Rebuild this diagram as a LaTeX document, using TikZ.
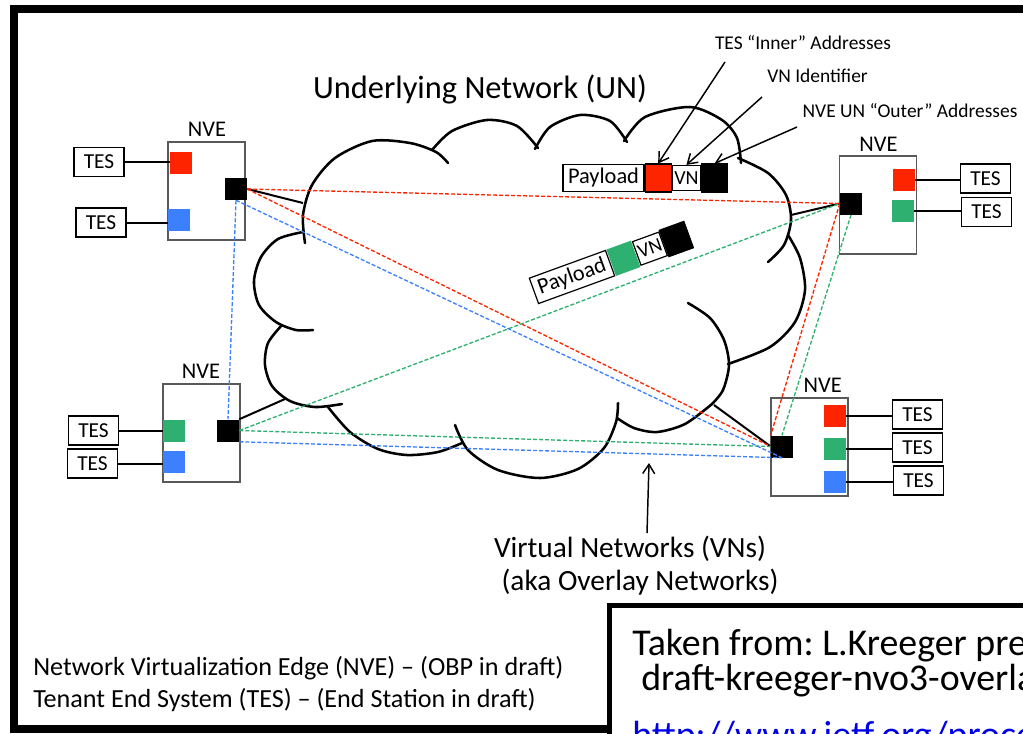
\documentclass[tikz,border=0pt]{standalone}
\usepackage{fontspec}
\setmainfont{Carlito}
\usetikzlibrary{positioning,calc,arrows.meta}
\frenchspacing

\definecolor{vnred}{RGB}{255,36,0}
\definecolor{vngreen}{RGB}{46,176,112}
\definecolor{vnblue}{RGB}{60,128,255}
\definecolor{linkblue}{RGB}{0,0,230}

\tikzset{
  nve/.style={draw=black!65, line width=1pt, minimum width=57.75pt, minimum height=73.5pt, inner sep=0pt},
  port/.style={minimum size=16.5pt, inner sep=0pt},
  tes/.style={draw, fill=white, line width=1.1pt, minimum width=37.5pt, minimum height=21.75pt, inner sep=0pt, font=\fontsize{16}{18}\selectfont},
  nvelbl/.style={anchor=base, inner sep=0pt, font=\fontsize{16.8}{18}\selectfont},
  vnlink/.style={line width=1pt, dash pattern=on 3pt off 1.5pt},
  cloudline/.style={line width=1.9pt, line cap=round},
  uplink/.style={line width=1.5pt},
  callout/.style={line width=1.1pt, -{Straight Barb[length=7pt,width=9pt]}},
  payload/.style={draw, fill=white, line width=0.9pt, minimum width=60.75pt, minimum height=20.25pt, inner sep=0pt, font=\fontsize{16.8}{18}\selectfont},
  vnid/.style={draw, fill=white, line width=0.9pt, minimum width=21pt, minimum height=18.75pt, inner sep=0pt, font=\fontsize{15}{16}\selectfont},
  addr/.style={draw, line width=0.9pt, minimum width=19.5pt, minimum height=21pt, inner sep=0pt},
  textlbl/.style={inner sep=0pt},
}

\begin{document}
\begin{tikzpicture}[x=0.75pt, y=-0.75pt]
\useasboundingbox (0,0) rectangle (1023,733);
\clip (0,0) rectangle (1023,733);

% outer frame
\draw[line width=6pt] (13.5,9) rectangle (1040,729);

% the underlying network cloud
\draw[cloudline] plot[smooth] coordinates {(305,243) (303,215) (312,185) (335,158) (372,141) (410,143) (436,152) (448,163)};
\draw[cloudline] plot[smooth] coordinates {(432,150) (452,131) (487,120) (517,126) (538,148)};
\draw[cloudline] plot[smooth] coordinates {(535,149) (550,127) (580,115) (610,121) (627,142)};
\draw[cloudline] plot[smooth] coordinates {(624,141) (645,117) (690,107) (722,120) (737,138) (741,163)};
\draw[cloudline] plot[smooth] coordinates {(738,158) (768,173) (786,195) (791,220) (784,245) (768,262)};
\draw[cloudline] plot[smooth] coordinates {(728,364) (770,347) (795,322) (805,290) (800,258) (788,235)};
\draw[cloudline] plot[smooth] coordinates {(688,303) (710,318) (724,340) (729,365) (723,390) (712,404)};
\draw[cloudline] plot[smooth] coordinates {(617,418) (634,428) (657,432) (685,424) (712,404)};
\draw[cloudline] plot[smooth] coordinates {(455,425) (468,450) (498,470) (540,478) (578,469) (604,448) (616,422) (618,403)};
\draw[cloudline] plot[smooth] coordinates {(328,407) (350,432) (378,449) (407,455) (438,452) (462,443)};
\draw[cloudline] plot[smooth] coordinates {(282,325) (268,343) (265,365) (272,386) (290,401) (315,407) (342,404)};
\draw[cloudline] plot[smooth] coordinates {(303,232) (278,239) (261,257) (254,281) (259,305) (276,322) (296,330) (313,330)};
\coordinate (tlc) at (303,203);
\coordinate (blc) at (285,399);
\coordinate (trc) at (791,215);
\coordinate (brc) at (714,405);

\node[textlbl, anchor=base, font=\fontsize{24.3}{26}\selectfont] (unlbl) at (480,98) {Underlying Network (UN)};

% NVE top left
\node[nve] (tlbox) at (206.5,191) {};
\node[nvelbl] (tllbl) at (207,136) {NVE};
\node[port, fill=vnred] (tlred) at (181,162.5) {};
\node[port, fill=vnblue] (tlblue) at (179,219.5) {};
\node[port, fill=black] (tlblk) at (236,189) {};
\node[tes] (tlt1) at (99,162) {TES};
\node[tes] (tlt2) at (101,222.5) {TES};
\draw[uplink] (tlt1.east) -- (tlt1.east -| tlred.west);
\draw[uplink] (tlt2.east) -- (tlt2.east -| tlblue.west);

% NVE bottom left
\node[nve] (blbox) at (201.5,433) {};
\node[nvelbl] (bllbl) at (201,378) {NVE};
\node[port, fill=vngreen] (blgreen) at (174,430.5) {};
\node[port, fill=vnblue] (blblue) at (174,462) {};
\node[port, fill=black] (blblk) at (228,430.5) {};
\node[tes] (blt1) at (93.5,430.5) {TES};
\node[tes] (blt2) at (92.5,463.5) {TES};
\draw[uplink] (blt1.east) -- (blt1.east -| blgreen.west);
\draw[uplink] (blt2.east) -- (blt2.east -| blblue.west);

% NVE top right
\node[nve] (trbox) at (878,205) {};
\node[nvelbl] (trlbl) at (878.5,151) {NVE};
\node[port, fill=black] (trblk) at (851,203.5) {};
\node[port, fill=vnred] (trred) at (904,179.5) {};
\node[port, fill=vngreen] (trgreen) at (903,210.5) {};
\node[tes] (trt1) at (985.5,178.5) {TES};
\node[tes] (trt2) at (986.5,212) {TES};
\draw[uplink] (trred.east) -- (trred.east -| trt1.west);
\draw[uplink] (trgreen.east) -- (trgreen.east -| trt2.west);

% NVE bottom right
\node[nve] (brbox) at (809.5,447) {};
\node[nvelbl] (brlbl) at (822.7,392) {NVE};
\node[port, fill=black] (brblk) at (782,446.5) {};
\node[port, fill=vnred] (brred) at (835,416) {};
\node[port, fill=vngreen] (brgreen) at (835,448.5) {};
\node[port, fill=vnblue] (brblue) at (835,481.5) {};
\node[tes] (brt1) at (917.5,414.5) {TES};
\node[tes] (brt2) at (917.5,447.5) {TES};
\node[tes] (brt3) at (918.5,480.5) {TES};
\draw[uplink] (brred.east) -- (brred.east -| brt1.west);
\draw[uplink] (brgreen.east) -- (brgreen.east -| brt2.west);
\draw[uplink] (brblue.east) -- (brblue.east -| brt3.west);

% NVEs attached to the UN
\draw[uplink] (tlblk.east) -- (tlc);
\draw[uplink] (blblk.north east) -- (blc);
\draw[uplink] (trblk.west) -- (trc);
\draw[uplink] (brblk.west) -- (brc);

% virtual networks
\draw[vnlink, vnred] (tlblk.east) -- (trblk.west);
\draw[vnlink, vnred] (tlblk.east) -- (brblk.west);
\draw[vnlink, vnred] (trblk.west) -- (brblk.north west);
\draw[vnlink, vngreen] (blblk.east) -- (trblk.west);
\draw[vnlink, vngreen] (blblk.east) -- (brblk.west);
\draw[vnlink, vngreen] (trblk.south) -- (brblk.north);
\draw[vnlink, vnblue] (tlblk.south) -- (blblk.north);
\draw[vnlink, vnblue] (tlblk.south) -- (brblk.south);
\draw[vnlink, vnblue] (blblk.south east) -- (brblk.south);

% encapsulated packets
\node[payload] (pay1) at (603.5,178) {Payload};
\node[addr, fill=vnred, right=0pt of pay1] (red1) {};
\node[vnid, right=0pt of red1] (vn1) {VN};
\node[addr, fill=black, right=0pt of vn1] (blk1) {};

\begin{scope}[shift={(572,277)}, rotate=20, transform shape]
\node[payload] (pay2) at (0,0) {Payload};
\node[addr, draw=none, fill=vngreen, right=0pt of pay2] (grn2) {};
\node[vnid, right=0pt of grn2] (vn2) {VN};
\node[addr, fill=black, right=0pt of vn2] (blk2) {};
\end{scope}

% header callouts
\node[textlbl, anchor=base, font=\fontsize{14.6}{16}\selectfont] (innerlbl) at (803,49) {TES “Inner” Addresses};
\node[textlbl, anchor=base, font=\fontsize{14.6}{16}\selectfont] (vnidlbl) at (817.5,82) {VN Identifier};
\node[textlbl, anchor=base, font=\fontsize{14.6}{16}\selectfont] (outerlbl) at (910,117) {NVE UN “Outer” Addresses};
\coordinate (innertail) at (725,62);
\coordinate (vnidtail) at (762,97);
\coordinate (outertail) at (797,127);
\draw[callout] (innertail) -- (red1.north);
\draw[callout] (vnidtail) -- (vn1.north);
\draw[callout] (outertail) -- (blk1.north);

% virtual networks label
\node[textlbl, anchor=base, font=\fontsize{22}{24}\selectfont] (vnslbl) at (630,557) {Virtual Networks (VNs)};
\node[textlbl, anchor=base, font=\fontsize{22}{24}\selectfont] (akalbl) at (640,590) {(aka Overlay Networks)};
\coordinate (vntail) at (647,533);
\coordinate (vntip) at (649,463);
\draw[callout] (vntail) -- (vntip);

% legend
\node[textlbl, anchor=base west, font=\fontsize{19.6}{22}\selectfont] (nvedef) at (33,675) {Network Virtualization Edge (NVE) – (OBP in draft)};
\node[textlbl, anchor=base west, font=\fontsize{19.6}{22}\selectfont] (tesdef) at (33,707) {Tenant End System (TES) – (End Station in draft)};

% source box
\draw[line width=3.75pt, fill=white] (609,605) rectangle (1040,760);
\node[textlbl, anchor=base west, font=\fontsize{28.4}{30}\selectfont] (src1) at (632,655) {Taken from: L.Kreeger pre};
\node[textlbl, anchor=base west, font=\fontsize{28.4}{30}\selectfont] (src2) at (641,690) {draft-kreeger-nvo3-overla};
\node[textlbl, anchor=base west, text=linkblue, font=\fontsize{28.4}{30}\selectfont] (src3) at (632,747) {http://www.ietf.org/proce};
\end{tikzpicture}
\end{document}
